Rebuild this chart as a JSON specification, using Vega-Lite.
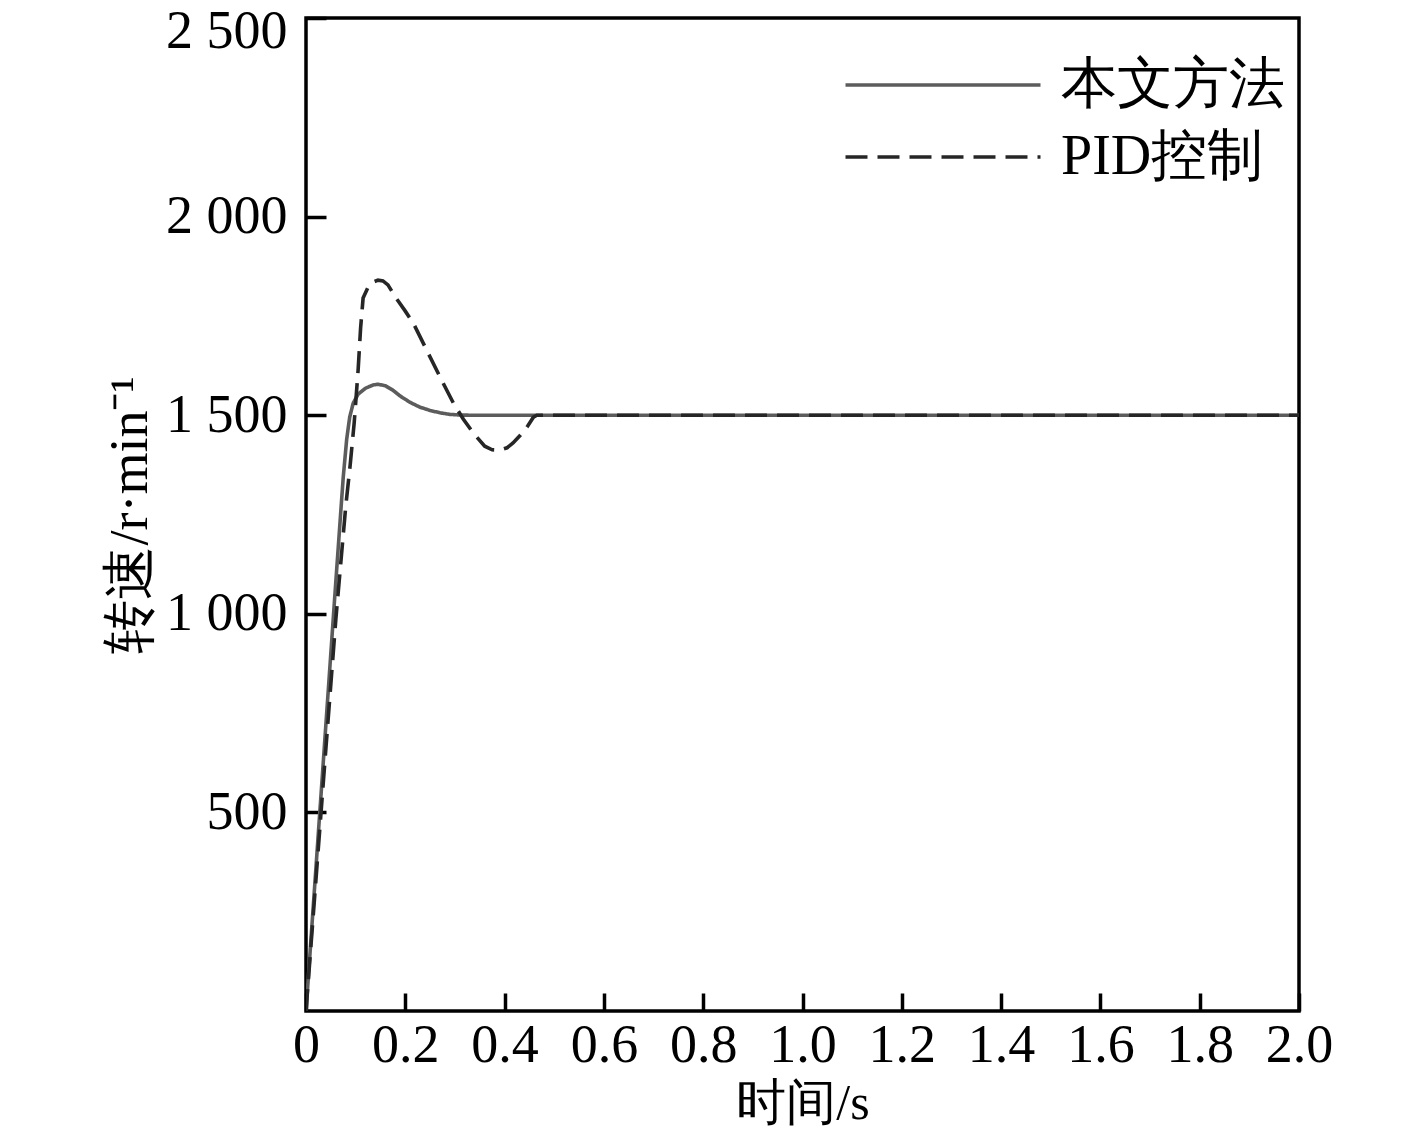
{
  "$schema": "https://vega.github.io/schema/vega-lite/v6.json",
  "width": 993,
  "height": 993,
  "autosize": {"type": "none"},
  "padding": {"left": 306, "top": 18, "right": 118, "bottom": 122},
  "background": "white",
  "config": {
    "view": {"stroke": "black", "strokeWidth": 3.5},
    "font": "Liberation Serif"
  },
  "data": {
    "values": [
      {"t": 0, "v": 0, "s": "本文方法"},
      {"t": 0.02, "v": 360, "s": "本文方法"},
      {"t": 0.04, "v": 720, "s": "本文方法"},
      {"t": 0.06, "v": 1080, "s": "本文方法"},
      {"t": 0.075, "v": 1344, "s": "本文方法"},
      {"t": 0.082, "v": 1440, "s": "本文方法"},
      {"t": 0.088, "v": 1495, "s": "本文方法"},
      {"t": 0.095, "v": 1530, "s": "本文方法"},
      {"t": 0.105, "v": 1553, "s": "本文方法"},
      {"t": 0.12, "v": 1568, "s": "本文方法"},
      {"t": 0.135, "v": 1576, "s": "本文方法"},
      {"t": 0.145, "v": 1578, "s": "本文方法"},
      {"t": 0.16, "v": 1574, "s": "本文方法"},
      {"t": 0.175, "v": 1563, "s": "本文方法"},
      {"t": 0.19, "v": 1548, "s": "本文方法"},
      {"t": 0.21, "v": 1532, "s": "本文方法"},
      {"t": 0.23, "v": 1520, "s": "本文方法"},
      {"t": 0.25, "v": 1512, "s": "本文方法"},
      {"t": 0.27, "v": 1506, "s": "本文方法"},
      {"t": 0.29, "v": 1502, "s": "本文方法"},
      {"t": 0.31, "v": 1500.5, "s": "本文方法"},
      {"t": 0.33, "v": 1500, "s": "本文方法"},
      {"t": 2.0, "v": 1500, "s": "本文方法"},
      {"t": 0, "v": 0, "s": "PID控制"},
      {"t": 0.02, "v": 330, "s": "PID控制"},
      {"t": 0.04, "v": 660, "s": "PID控制"},
      {"t": 0.06, "v": 985, "s": "PID控制"},
      {"t": 0.08, "v": 1270, "s": "PID控制"},
      {"t": 0.089, "v": 1375, "s": "PID控制"},
      {"t": 0.097, "v": 1480, "s": "PID控制"},
      {"t": 0.105, "v": 1614, "s": "PID控制"},
      {"t": 0.11, "v": 1720, "s": "PID控制"},
      {"t": 0.115, "v": 1795, "s": "PID控制"},
      {"t": 0.125, "v": 1822, "s": "PID控制"},
      {"t": 0.135, "v": 1835, "s": "PID控制"},
      {"t": 0.145, "v": 1840, "s": "PID控制"},
      {"t": 0.155, "v": 1838, "s": "PID控制"},
      {"t": 0.165, "v": 1828, "s": "PID控制"},
      {"t": 0.183, "v": 1792, "s": "PID控制"},
      {"t": 0.2, "v": 1762, "s": "PID控制"},
      {"t": 0.216, "v": 1732, "s": "PID控制"},
      {"t": 0.243, "v": 1664, "s": "PID控制"},
      {"t": 0.27, "v": 1596, "s": "PID控制"},
      {"t": 0.297, "v": 1530, "s": "PID控制"},
      {"t": 0.317, "v": 1490, "s": "PID控制"},
      {"t": 0.337, "v": 1455, "s": "PID控制"},
      {"t": 0.36, "v": 1422, "s": "PID控制"},
      {"t": 0.375, "v": 1413, "s": "PID控制"},
      {"t": 0.39, "v": 1412, "s": "PID控制"},
      {"t": 0.405, "v": 1418, "s": "PID控制"},
      {"t": 0.417, "v": 1430, "s": "PID控制"},
      {"t": 0.432, "v": 1450, "s": "PID控制"},
      {"t": 0.445, "v": 1470, "s": "PID控制"},
      {"t": 0.458, "v": 1495, "s": "PID控制"},
      {"t": 0.465, "v": 1500, "s": "PID控制"},
      {"t": 2.0, "v": 1500, "s": "PID控制"}
    ]
  },
  "mark": {"type": "line", "strokeWidth": 3.6, "clip": true},
  "encoding": {
    "x": {
      "field": "t",
      "type": "quantitative",
      "scale": {"domain": [0, 2], "nice": false, "zero": false},
      "axis": {
        "values": [0, 0.2, 0.4, 0.6, 0.8, 1.0, 1.2, 1.4, 1.6, 1.8, 2.0],
        "labelExpr": "datum.value == 0 ? '0' : format(datum.value, '.1f')",
        "labelOverlap": false,
        "labelFlush": false,
        "title": "时间/s",
        "titleFont": "Liberation Serif",
        "titleFontSize": 50,
        "titleFontWeight": "normal",
        "titleColor": "black",
        "titlePadding": 6,
        "labelFont": "Liberation Serif",
        "labelFontSize": 54,
        "labelColor": "black",
        "labelPadding": 25,
        "tickSize": -18,
        "tickWidth": 3.5,
        "tickColor": "black",
        "domain": false,
        "grid": false
      }
    },
    "y": {
      "field": "v",
      "type": "quantitative",
      "scale": {"domain": [0, 2500], "nice": false},
      "axis": {
        "values": [500, 1000, 1500, 2000, 2500],
        "labelExpr": "replace(format(datum.value, ','), ',', ' ')",
        "labelOverlap": false,
        "title": "转速/r·min⁻¹",
        "titleFont": "Liberation Serif",
        "titleFontSize": 54,
        "titleFontWeight": "normal",
        "titleColor": "black",
        "titlePadding": 8,
        "labelFont": "Liberation Serif",
        "labelFontSize": 54,
        "labelColor": "black",
        "labelPadding": 39,
        "labelFlush": true,
        "labelFlushOffset": 14,
        "tickSize": -20,
        "tickWidth": 3.5,
        "tickColor": "black",
        "domain": false,
        "grid": false
      }
    },
    "color": {
      "field": "s",
      "type": "nominal",
      "scale": {"domain": ["本文方法", "PID控制"], "range": ["#5c5c5c", "#262626"]},
      "legend": {
        "title": null,
        "orient": "none",
        "legendX": 609,
        "legendY": 39,
        "symbolType": "M-5,0L5,0",
        "symbolSize": 1521,
        "symbolStrokeWidth": 3.5,
        "labelFont": "Liberation Serif",
        "labelFontSize": 56,
        "labelColor": "black",
        "labelOffset": 90,
        "labelLimit": 500,
        "rowPadding": 16,
        "padding": 0
      }
    },
    "strokeDash": {
      "field": "s",
      "type": "nominal",
      "scale": {"domain": ["本文方法", "PID控制"], "range": [[1, 0], [22, 10]]},
      "legend": {
        "title": null,
        "orient": "none",
        "legendX": 609,
        "legendY": 39,
        "symbolType": "M-5,0L5,0",
        "symbolSize": 1521,
        "symbolStrokeWidth": 3.5,
        "labelFont": "Liberation Serif",
        "labelFontSize": 56,
        "labelColor": "black",
        "labelOffset": 90,
        "labelLimit": 500,
        "rowPadding": 16,
        "padding": 0
      }
    }
  }
}
